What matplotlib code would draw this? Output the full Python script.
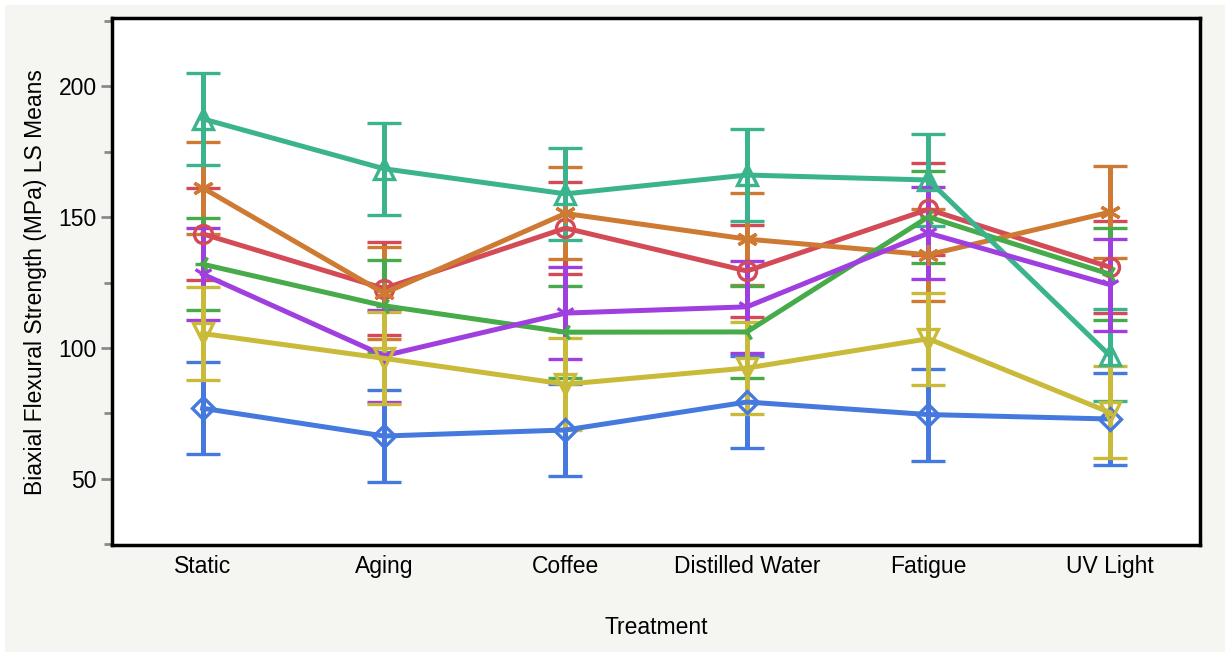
import matplotlib
matplotlib.use("Agg")
import matplotlib.pyplot as plt
from matplotlib.patches import Rectangle
import numpy as np

plt.rcParams['font.family'] = ['Liberation Sans', 'DejaVu Sans']

treatments = ["Static", "Aging", "Coffee", "Distilled Water", "Fatigue", "UV Light"]

# LS means, one list per group
blue = [76.9, 66.3, 68.6, 79.3, 74.5, 72.8]
red = [143.6, 122.7, 145.8, 129.4, 153.0, 130.9]
orange = [161.2, 120.9, 151.4, 141.6, 135.6, 151.9]
green = [132.0, 116.1, 106.0, 106.1, 150.1, 128.2]
teal = [187.6, 168.5, 158.9, 166.1, 164.2, 97.1]
purple = [128.2, 97.0, 113.3, 115.7, 143.9, 124.2]
yellow = [105.5, 96.0, 86.1, 92.3, 103.5, 75.3]

# half length of every error bar (same std error for all means)
std_err = 17.6

series = [
    (blue, "#4679dd", "D", 11),
    (red, "#d44b58", "o", 13),
    (orange, "#cf7a32", (6, 2, 0), 15),
    (green, "#46ab48", "3", 12),
    (teal, "#3bb48d", "^", 14),
    (purple, "#a03fe0", "1", 15),
    (yellow, "#c9ba3a", "v", 14),
]

fig = plt.figure(figsize=(12.3, 6.57), dpi=100, facecolor="white")
fig.patches.append(Rectangle((0.004, 0.008), 0.992, 0.985, transform=fig.transFigure,
                             facecolor="#f5f5f1", edgecolor="none", zorder=-10))
ax = fig.add_axes([0.091, 0.17, 0.885, 0.802])
ax.set_facecolor("white")

x = np.arange(len(treatments))
for vals, col, mk, ms in series:
    ax.errorbar(x, vals, yerr=std_err, color=col, lw=3.6, elinewidth=3.6,
                capsize=12.5, capthick=3.6, marker=mk, markersize=ms,
                markerfacecolor="none", markeredgecolor=col, markeredgewidth=2.4)

ax.set_xlim(-0.5, 5.5)
ax.set_ylim(24.5, 226)
ax.set_xticks(x)
ax.set_xticklabels(treatments, fontsize=16.5)
ax.set_yticks([50, 100, 150, 200])
ax.set_yticks([25, 75, 125, 175, 225], minor=True)
ax.tick_params(axis="x", length=0, pad=7)
ax.tick_params(axis="y", which="major", length=8, width=2, color="#8a8a8a", labelsize=16.5, pad=3)
ax.tick_params(axis="y", which="minor", length=6, width=2, color="#8a8a8a")

for sp in ax.spines.values():
    sp.set_linewidth(2.5)
    sp.set_color("black")

ax.set_ylabel("Biaxial Flexural Strength (MPa) LS Means", fontsize=16.5, labelpad=8)
ax.set_xlabel("Treatment", fontsize=16.5)
ax.xaxis.set_label_coords(0.5, -0.135)

fig.savefig("out.png", dpi=100, facecolor=fig.get_facecolor())
